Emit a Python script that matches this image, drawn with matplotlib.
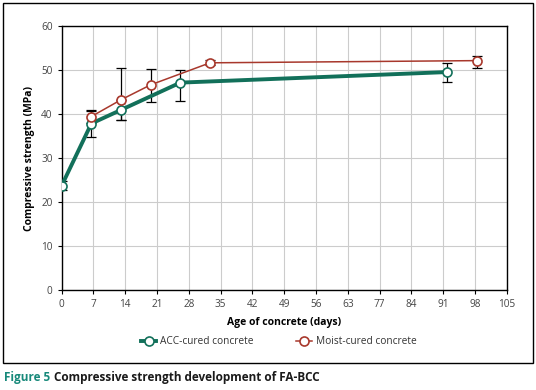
import matplotlib
matplotlib.use("Agg")
import matplotlib.pyplot as plt
from matplotlib.patches import Rectangle

plt.rcParams["font.family"] = ["Open Sans", "DejaVu Sans"]

# ── data ─────────────────────────────────────────────────────────────────────
acc_days = [0, 7, 14, 28, 91]
acc_strength = [23.8, 37.9, 41.0, 47.2, 49.6]
acc_err_lo = [1.1, 3.0, 2.3, 4.2, 2.2]
acc_err_hi = [1.1, 2.9, 2.2, 2.9, 2.1]

moist_days = [7, 14, 21, 35, 98]
moist_strength = [39.5, 43.3, 46.7, 51.7, 52.2]
moist_err_lo = [1.5, 4.5, 3.9, 0.6, 1.7]
moist_err_hi = [1.5, 7.3, 3.6, 0.6, 1.1]

x_tick_pos = [i * 7.5 for i in range(15)]
x_tick_labels = ["0", "7", "14", "21", "28", "35", "42", "49", "56", "63",
                 "77", "84", "91", "98", "105"]
y_ticks = [0, 10, 20, 30, 40, 50, 60]

GREEN = "#12705a"
RED = "#a8382c"
TEAL = "#17897a"

W, H = 536, 390
fig = plt.figure(figsize=(W / 100, H / 100), dpi=100)

# outer frame
fig.patches.append(Rectangle((3 / W, 1 - 363 / H), 530 / W, 360 / H,
                             transform=fig.transFigure, fill=False,
                             edgecolor="black", linewidth=1.0))

ax = fig.add_axes([61.7 / W, 1 - 290.3 / H, 445 / W, 264 / H])

ax.errorbar(acc_days, acc_strength, yerr=[acc_err_lo, acc_err_hi],
            fmt="none", ecolor="black", elinewidth=0.9, capsize=3.6,
            capthick=0.9, zorder=3)
ax.errorbar(moist_days, moist_strength, yerr=[moist_err_lo, moist_err_hi],
            fmt="none", ecolor="black", elinewidth=0.9, capsize=3.6,
            capthick=0.9, zorder=3)

ax.plot(acc_days, acc_strength, color=GREEN, linewidth=2.8, marker="o",
        markersize=6.5, markerfacecolor="white", markeredgecolor=GREEN,
        markeredgewidth=1.2, label="ACC-cured concrete", zorder=4)
ax.plot(moist_days, moist_strength, color=RED, linewidth=1.1, marker="o",
        markersize=6.5, markerfacecolor="white", markeredgecolor=RED,
        markeredgewidth=1.2, label="Moist-cured concrete", zorder=4)

ax.set_xlim(0, 105)
ax.set_ylim(0, 60)
ax.set_xticks(x_tick_pos)
ax.set_xticklabels(x_tick_labels)
ax.set_yticks(y_ticks)
ax.grid(True, color="#cccccc", linewidth=0.8)
ax.set_axisbelow(True)
ax.tick_params(labelsize=7.2, colors="#444444", length=3, width=0.8,
               direction="out")
ax.tick_params(axis="both", color="black")
for s in ax.spines.values():
    s.set_color("black")
    s.set_linewidth(1.0)

ax.set_xlabel("Age of concrete (days)", fontsize=7.5, fontweight="bold",
              labelpad=5)
ax.set_ylabel("Compressive strength (MPa)", fontsize=7.5, fontweight="bold",
              labelpad=4)

fig.legend(loc="center", bbox_to_anchor=(0.52, 1 - 342 / H), ncol=2,
           frameon=False, fontsize=7.3, handlelength=1.5, columnspacing=4.2,
           handletextpad=0.4, labelcolor="#333333")

# caption
fig.canvas.draw()
t1 = fig.text(4 / W, 1 - 378 / H, "Figure 5", fontsize=8.5, fontweight="bold",
              color=TEAL, va="center", ha="left")
bb = t1.get_window_extent(fig.canvas.get_renderer())
fig.text(bb.x1 / W + 4 / W, 1 - 378 / H,
         "Compressive strength development of FA-BCC", fontsize=8.5,
         fontweight="bold", color="#1a1a1a", va="center", ha="left")

fig.savefig("out.png", dpi=100)
